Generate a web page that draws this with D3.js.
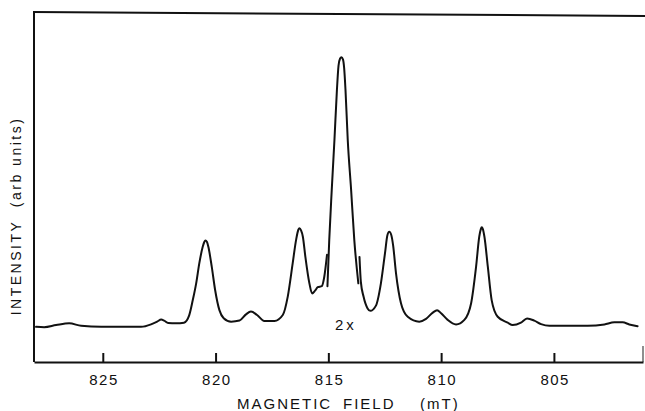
<!DOCTYPE html>
<html>
<head>
<meta charset="utf-8">
<script src="https://cdn.jsdelivr.net/npm/d3@7"></script>
<style>
  html, body { margin: 0; padding: 0; background: #fff; }
  svg { display: block; }
  text { font-family: "Liberation Sans", Arial, sans-serif; fill: #111; }
</style>
</head>
<body>
<svg id="chart" width="645" height="411"></svg>
<script>
// Magnetic field (mT) and intensity (arb units, axis 0..100).
// Segment A: left part up to the break before the central peak
const fieldA = [827.96, 827.60, 827.07, 826.49, 825.96, 825.07, 824.19, 823.30, 822.86, 822.59, 822.41, 822.28, 822.10, 821.75, 821.40, 821.17, 821.01, 820.86, 820.72, 820.57, 820.50, 820.45, 820.38, 820.32, 820.17, 820.02, 819.83, 819.64, 819.31, 818.94, 818.65, 818.43, 818.16, 817.84, 817.39, 817.02, 816.80, 816.58, 816.43, 816.33, 816.28, 816.21, 816.13, 816.02, 815.84, 815.72, 815.59, 815.47, 815.29, 815.18, 815.06];
const intensityA = [10.1, 10.0, 10.6, 11.1, 10.4, 10.1, 10.1, 10.1, 10.8, 11.6, 12.2, 11.9, 11.2, 11.1, 11.3, 13.4, 17.8, 22.6, 28.4, 33.1, 34.5, 34.9, 34.5, 33.1, 27.4, 20.7, 14.9, 12.6, 11.6, 11.9, 13.7, 14.5, 13.5, 11.8, 11.8, 13.5, 18.8, 28.4, 35.1, 38.0, 38.4, 37.8, 36.0, 30.3, 22.6, 19.7, 20.5, 21.5, 21.8, 24.5, 30.8];
// Segment B: central peak (drawn at 2x)
const fieldB = [815.04, 814.96, 814.85, 814.73, 814.62, 814.55, 814.48, 814.42, 814.35, 814.30, 814.24, 814.14, 813.99, 813.85, 813.67];
const intensityB = [21.8, 35.1, 49.4, 63.8, 78.2, 85.1, 87.2, 87.6, 86.9, 84.5, 78.2, 63.8, 49.4, 35.1, 22.6];
// Segment C: right part after the break
const fieldC = [813.62, 813.56, 813.44, 813.26, 813.14, 812.89, 812.67, 812.49, 812.38, 812.30, 812.21, 812.13, 812.00, 811.78, 811.48, 810.97, 810.67, 810.37, 810.18, 810.00, 809.71, 809.34, 808.97, 808.67, 808.45, 808.31, 808.24, 808.20, 808.15, 808.08, 807.93, 807.76, 807.49, 807.05, 806.83, 806.46, 806.19, 805.87, 805.57, 805.20, 804.39, 803.50, 802.76, 802.32, 801.95, 801.66, 801.29];
const intensityC = [30.2, 23.1, 18.8, 15.4, 14.7, 16.2, 22.6, 31.2, 36.5, 37.4, 36.5, 33.6, 25.5, 16.9, 13.0, 11.6, 12.4, 14.2, 14.9, 14.0, 12.1, 10.8, 12.1, 16.9, 27.4, 36.0, 38.2, 38.7, 38.2, 36.0, 27.4, 17.8, 13.0, 11.3, 10.6, 11.3, 12.5, 11.9, 10.9, 10.4, 10.4, 10.4, 10.8, 11.4, 11.4, 10.8, 10.3];

const tickValues = [825, 820, 815, 810, 805];
const tickLabels = ["825", "820", "815", "810", "805"];
const xTitle = ["MAGNETIC", "FIELD", "(mT)"];
const yTitle = "INTENSITY  (arb units)";
const gainLabel = "2x";

const svg = d3.select("#chart");
const x = d3.scaleLinear().domain([828.05, 801.05]).range([34, 643]);
const y = d3.scaleLinear().domain([0, 100]).range([362, 14]);

const ink = "#111";

// Frame
svg.append("line").attr("x1", 34).attr("y1", 12).attr("x2", 34).attr("y2", 362)
  .attr("stroke", ink).attr("stroke-width", 2);
svg.append("line").attr("x1", 33).attr("y1", 12).attr("x2", 645).attr("y2", 16)
  .attr("stroke", ink).attr("stroke-width", 2);
svg.append("line").attr("x1", 643).attr("y1", 346).attr("x2", 643).attr("y2", 362)
  .attr("stroke", "#444").attr("stroke-width", 1.2);

// Bottom axis with inward ticks
const xAxis = d3.axisBottom(x)
  .tickValues(tickValues)
  .tickFormat((d, i) => tickLabels[i])
  .tickSizeInner(-9)
  .tickSizeOuter(0)
  .tickPadding(12);
const gx = svg.append("g").attr("transform", "translate(0,362)").call(xAxis);
gx.select(".domain").attr("stroke", ink).attr("stroke-width", 2);
gx.selectAll(".tick line").attr("stroke", ink).attr("stroke-width", 2);
gx.selectAll(".tick text")
  .attr("font-family", "'Liberation Sans', Arial, sans-serif")
  .attr("font-size", 15).attr("fill", ink)
  .style("letter-spacing", "1.5px")
  .attr("dx", "0.75px");

// Axis titles
const xt = svg.append("text").attr("y", 409).attr("font-size", 15)
  .style("letter-spacing", "2px");
xt.append("tspan").attr("x", 237).text(xTitle[0]);
xt.append("tspan").attr("x", 343).text(xTitle[1]);
xt.append("tspan").attr("x", 420).text(xTitle[2]);

svg.append("text")
  .attr("transform", "translate(21,216) rotate(-90)")
  .attr("text-anchor", "middle")
  .attr("font-size", 14)
  .style("letter-spacing", "2.5px")
  .style("white-space", "pre")
  .text(yTitle);

// Trace
const line = d3.line()
  .x(d => x(d[0]))
  .y(d => y(d[1]))
  .curve(d3.curveMonotoneX);

const segments = [
  d3.zip(fieldA, intensityA),
  d3.zip(fieldB, intensityB),
  d3.zip(fieldC, intensityC)
];
svg.selectAll("path.trace").data(segments).join("path")
  .attr("class", "trace")
  .attr("d", line)
  .attr("fill", "none")
  .attr("stroke", ink)
  .attr("stroke-width", 2)
  .attr("stroke-linejoin", "round")
  .attr("stroke-linecap", "round");

// Gain label
svg.append("text").attr("x", 335).attr("y", 330)
  .attr("font-size", 15)
  .style("letter-spacing", "3px")
  .text(gainLabel);
</script>
</body>
</html>
